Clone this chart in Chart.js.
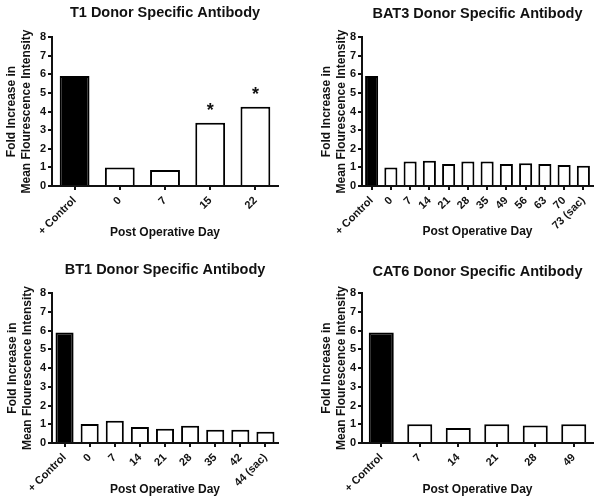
<!DOCTYPE html>
<html>
<head>
<meta charset="utf-8">
<script src="https://cdn.jsdelivr.net/npm/chart.js@4.4.1/dist/chart.umd.min.js"></script>
<style>
  body { margin: 0; background: #fff; }
  #wrap { position: relative; width: 600px; height: 503px; }
  canvas { position: absolute; }
</style>
</head>
<body>
<div id="wrap">
  <canvas id="c1" width="300" height="250" style="left:0;top:0"></canvas>
  <canvas id="c2" width="300" height="250" style="left:300px;top:0"></canvas>
  <canvas id="c3" width="300" height="253" style="left:0;top:250px"></canvas>
  <canvas id="c4" width="300" height="253" style="left:300px;top:250px"></canvas>
</div>
<script>
const FONT = "'Liberation Sans', Arial, sans-serif";
const INK = "#111";

const yTicksMax = 8;

const t1Days = ["+ Control", "0", "7", "15", "22"];
const t1Fold = [5.9, 1.0, 0.86, 3.4, 4.26];
const t1Stars = ["", "", "", "*", "*"];

const bat3Days = ["+ Control", "0", "7", "14", "21", "28", "35", "49", "56", "63", "70", "73 (sac)"];
const bat3Fold = [5.9, 1.0, 1.31, 1.36, 1.18, 1.31, 1.31, 1.18, 1.22, 1.18, 1.13, 1.09];

const bt1Days = ["+ Control", "0", "7", "14", "21", "28", "35", "42", "44 (sac)"];
const bt1Fold = [5.9, 1.01, 1.19, 0.85, 0.76, 0.92, 0.71, 0.71, 0.6];

const cat6Days = ["+ Control", "7", "14", "21", "28", "49"];
const cat6Fold = [5.9, 1.0, 0.8, 1.0, 0.94, 1.0];

const starPlugin = {
  id: "stars",
  afterDatasetsDraw(chart, args, opts) {
    const marks = opts.marks || [];
    const ctx = chart.ctx;
    const meta = chart.getDatasetMeta(0);
    ctx.save();
    ctx.fillStyle = INK;
    ctx.font = "bold 18px " + FONT;
    ctx.textAlign = "center";
    ctx.textBaseline = "alphabetic";
    meta.data.forEach((bar, i) => {
      if (marks[i]) ctx.fillText(marks[i], bar.x, bar.y - 7);
    });
    ctx.restore();
  }
};

const makeChart = (id, title, labels, values, marks, box) => {
  const canvas = document.getElementById(id);
  const h = canvas.height;
  new Chart(canvas, {
    type: "bar",
    data: {
      labels: labels,
      datasets: [{
        data: values,
        backgroundColor: labels.map((l, i) => (i === 0 ? "#000" : "#fff")),
        borderColor: "#000",
        borderWidth: 2,
        barPercentage: box.bar,
        categoryPercentage: 1
      }]
    },
    options: {
      responsive: false,
      devicePixelRatio: 1,
      animation: false,
      layout: { padding: { left: 0, right: 300 - box.right, top: 0, bottom: 0 } },
      plugins: {
        legend: { display: false },
        tooltip: { enabled: false },
        title: {
          display: true,
          text: title,
          fullSize: false,
          color: INK,
          font: { family: FONT, size: 14.5, weight: "bold" },
          padding: { top: box.titleTop, bottom: box.top - box.titleTop - 17.4 }
        },
        stars: { marks: marks }
      },
      scales: {
        x: {
          offset: true,
          grid: { drawOnChartArea: false, offset: false, tickLength: 4, color: INK, lineWidth: 2 },
          border: { display: true, color: INK, width: 2 },
          ticks: {
            autoSkip: false, minRotation: 45, maxRotation: 45, padding: 4,
            color: INK, font: { family: FONT, size: 11, weight: "bold" }
          },
          title: {
            display: true, text: "Post Operative Day", color: INK,
            font: { family: FONT, size: 12, weight: "bold" },
            padding: { top: 0, bottom: box.xPad }
          },
          afterFit(s) { s.height = h - box.bottom; s.paddingLeft = 0; s.paddingRight = 0; }
        },
        y: {
          min: 0, max: yTicksMax,
          grid: { drawOnChartArea: false, tickLength: 4, color: INK, lineWidth: 2 },
          border: { display: true, color: INK, width: 2 },
          ticks: { stepSize: 1, padding: 2, color: INK, font: { family: FONT, size: 11, weight: "bold" } },
          title: {
            display: true, text: ["Fold Increase in", "Mean Flourescence Intensity"], color: INK,
            font: { family: FONT, size: 12, weight: "bold", lineHeight: 1.25 },
            padding: { top: box.yPad, bottom: 0 }
          },
          afterFit(s) { s.width = box.left; s.paddingTop = 0; s.paddingBottom = 0; }
        }
      }
    },
    plugins: [starPlugin]
  });
};

window.onload = () => {
  makeChart("c1", "T1 Donor Specific Antibody", t1Days, t1Fold, t1Stars,
    { left: 52, right: 278, top: 37, bottom: 186, titleTop: 4.3, xPad: 9.8, yPad: 4.5, bar: 0.66 });
  makeChart("c2", "BAT3 Donor Specific Antibody", bat3Days, bat3Fold, [],
    { left: 62, right: 293, top: 37, bottom: 186, titleTop: 5, xPad: 10.8, yPad: 19.5, bar: 0.68 });
  makeChart("c3", "BT1 Donor Specific Antibody", bt1Days, bt1Fold, [],
    { left: 52, right: 278, top: 43, bottom: 193, titleTop: 11.3, xPad: 5.8, yPad: 5.5, bar: 0.72 });
  makeChart("c4", "CAT6 Donor Specific Antibody", cat6Days, cat6Fold, [],
    { left: 62, right: 293, top: 43, bottom: 193, titleTop: 13, xPad: 5.8, yPad: 19.5, bar: 0.65 });
};
</script>
</body>
</html>
